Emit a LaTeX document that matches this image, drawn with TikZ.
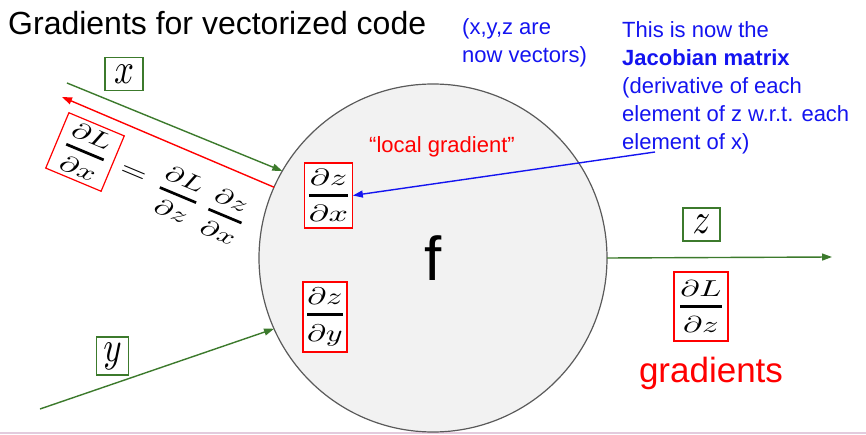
\documentclass[tikz,border=0pt]{standalone}
\usepackage[no-math]{fontspec}
\usepackage{graphicx}
\setmainfont{Liberation Sans}
\usetikzlibrary{arrows.meta}
\definecolor{dgreen}{HTML}{3C7A2C}
\definecolor{jblue}{HTML}{1414F0}
\definecolor{cfill}{HTML}{F2F2F2}
\definecolor{cdraw}{HTML}{5A5A5A}
\definecolor{pinkline}{HTML}{E3CBDD}
\newcommand{\scaledmath}[3]{\scalebox{#1}[#2]{$\displaystyle #3$}}
\newcommand{\pfrac}[2]{{#1\above 1.2pt #2}}
\begin{document}
\begin{tikzpicture}[x=1pt,y=-1pt,
  gbox/.style={draw=dgreen, line width=1.2pt, inner sep=0pt, fill=white},
  rbox/.style={draw=red, line width=1.2pt, inner sep=0pt, fill=white},
  mathtxt/.style={inner sep=0pt},
  garrow/.style={dgreen, line width=1.4pt, -{Triangle[length=10pt,width=7pt]}},
  rarrow/.style={red, line width=1.4pt, -{Triangle[length=10pt,width=7pt]}},
  barrow/.style={jblue, line width=1.4pt, -{Triangle[length=10pt,width=7pt]}},
  bluetxt/.style={jblue, inner sep=0pt, anchor=north west, align=left, font=\fontsize{22}{28}\selectfont}
]
\useasboundingbox (0,0) rectangle (866,435);
\fill[white] (0,0) rectangle (866,435);
\draw[pinkline, line width=1.5pt] (0,433) -- (866,433);

% title and notes
\node[anchor=base west, inner sep=0pt, font=\fontsize{32}{36}\selectfont] (title) at (8,35) {Gradients for vectorized code};
\node[bluetxt] (vecnote) at (462,18) {(x,y,z are\\now vectors)};
\node[bluetxt] (jacnote) at (622,21) {This is now the\\\textbf{Jacobian matrix}\\(derivative of each\\element of z w.r.t. each\\element of x)};

% the function circle
\node[circle, fill=cfill, draw=cdraw, line width=1.2pt, minimum size=348pt, inner sep=0pt, outer sep=0pt,
      font=\fontsize{62}{62}\selectfont] (fcirc) at (433,258) {f};

\node[anchor=base, inner sep=0pt, red, font=\fontsize{22}{26}\selectfont] (localg) at (442,153) {\textquotedblleft local gradient\textquotedblright};

\node[rbox, minimum width=47pt, minimum height=65pt] (dzdx) at (328.5,195.5) {\scaledmath{3.4}{2.35}{\pfrac{\partial z}{\partial x}}};
\node[rbox, minimum width=44pt, minimum height=70pt] (dzdy) at (325,317) {\scaledmath{3.2}{2.4}{\pfrac{\partial z}{\partial y}}};

% inputs and outputs
\node[gbox, minimum width=38pt, minimum height=33pt] (xbox) at (124,74) {\scaledmath{3.5}{4.3}{x}};
\node[gbox, minimum width=32pt, minimum height=38pt] (ybox) at (112.5,356) {\scaledmath{3.5}{4.3}{y}};
\node[gbox, minimum width=37pt, minimum height=33pt] (zbox) at (701.5,224.5) {\scaledmath{3.5}{4.3}{z}};
\node[rbox, minimum width=54pt, minimum height=69pt] (dLdz) at (701,306.5) {\scaledmath{3.25}{2.3}{\pfrac{\partial L}{\partial z}}};
\node[anchor=base, inner sep=0pt, red, font=\fontsize{35}{40}\selectfont] (gradlbl) at (711,382) {gradients};

% rotated chain rule
\node[rbox, rotate=-22.7, minimum width=60pt, minimum height=60pt] (eqL) at (85,152) {\scaledmath{3.2}{2.3}{\pfrac{\partial L}{\partial x}}};
\node[mathtxt, rotate=-22.7] (eqeq) at (133,174) {\scaledmath{3.4}{2.6}{=}};
\node[mathtxt, rotate=-22.7] (eqA) at (178,195) {\scaledmath{3.1}{2.25}{\pfrac{\partial L}{\partial z}}};
\node[mathtxt, rotate=-22.7] (eqB) at (225,216) {\scaledmath{3.1}{2.25}{\pfrac{\partial z}{\partial x}}};

% connectors
\coordinate (xstart) at (67,83);
\coordinate (gback) at (62,97);
\coordinate (ystart) at (40,409);
\coordinate (zend) at (832,257);
\coordinate (jstart) at (655,152);
\draw[garrow] (xstart) -- (fcirc.150.3);
\draw[rarrow] (fcirc.156.4) -- (gback);
\draw[garrow] (ystart) -- (fcirc.204.5);
\draw[garrow] (fcirc.0) -- (zend);
\draw[barrow] (jstart) -- (dzdx.east);
\end{tikzpicture}
\end{document}
